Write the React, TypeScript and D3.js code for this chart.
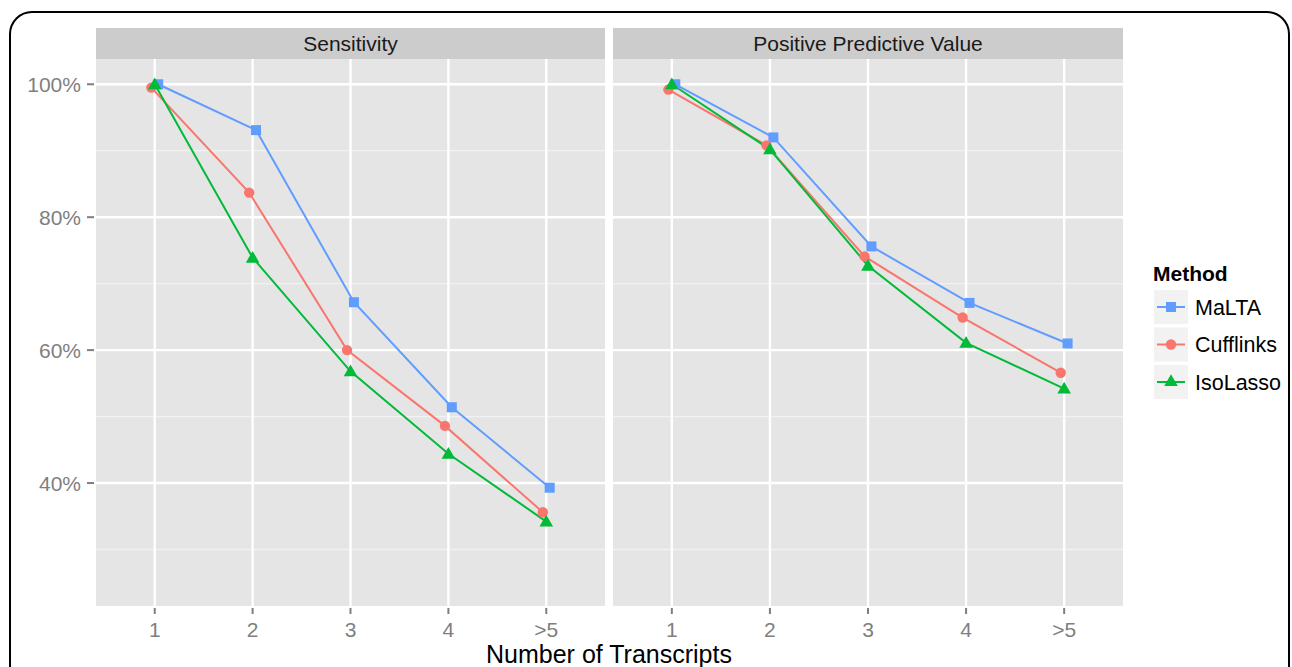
import React from 'react';
import * as d3 from 'd3';

// categories + series (in %)
const categories = ['1', '2', '3', '4', '>5'];
const panels = ['Sensitivity', 'Positive Predictive Value'];
const methods = ['MaLTA', 'Cufflinks', 'IsoLasso'];

const sensMalta = [100, 93.1, 67.2, 51.4, 39.3];
const sensCufflinks = [99.5, 83.7, 60.0, 48.6, 35.6];
const sensIsolasso = [100, 73.9, 56.8, 44.4, 34.2];

const ppvMalta = [100, 92.0, 75.6, 67.1, 61.0];
const ppvCufflinks = [99.2, 90.8, 74.1, 64.9, 56.6];
const ppvIsolasso = [100, 90.2, 72.7, 61.1, 54.2];

const yTicks = [40, 60, 80, 100];
const yMinor = [30, 50, 70, 90];

const series: Record<string, number[][]> = {
  Sensitivity: [sensMalta, sensCufflinks, sensIsolasso],
  'Positive Predictive Value': [ppvMalta, ppvCufflinks, ppvIsolasso],
};

const colors: Record<string, string> = {
  MaLTA: '#619CFF',
  Cufflinks: '#F8766D',
  IsoLasso: '#00BA38',
};
// dodge order (alphabetical as ggplot does)
const dodgeIdx: Record<string, number> = { Cufflinks: -1, IsoLasso: 0, MaLTA: 1 };

const FONT = '"Liberation Sans", Arial, Helvetica, sans-serif';

const panelTop = 59;
const panelBottom = 606;
const stripTop = 28;
const panelX = [[96, 605], [613, 1123]];

const y = d3.scaleLinear().domain([21.5, 103.8]).range([panelBottom, panelTop]);

function Marker({ method, cx, cy }: { method: string; cx: number; cy: number }) {
  const c = colors[method];
  if (method === 'MaLTA') {
    return <rect x={cx - 5} y={cy - 5} width={10} height={10} fill={c} />;
  }
  if (method === 'Cufflinks') {
    return <circle cx={cx} cy={cy} r={5.2} fill={c} />;
  }
  const s = d3.symbol(d3.symbolTriangle, 80)() as string;
  return <path d={s} transform={`translate(${cx},${cy + 1})`} fill={c} />;
}

function Panel({ name, x0, x1 }: { name: string; x0: number; x1: number }) {
  const x = d3.scalePoint<string>().domain(categories).range([x0, x1]).padding(0.6);
  const step = x.step();
  const line = d3.line<[number, number]>().x(d => d[0]).y(d => d[1]);
  const rows = methods.map((m, i) => {
    const vals = series[name][i];
    const pts: [number, number][] = vals.map((v, j) => [
      (x(categories[j]) as number) + dodgeIdx[m] * step * 0.035,
      y(v),
    ]);
    return { m, pts };
  });
  return (
    <g>
      <rect x={x0} y={stripTop} width={x1 - x0} height={panelTop - stripTop} fill="#CCCCCC" />
      <text x={(x0 + x1) / 2} y={(stripTop + panelTop) / 2 + 7.5} textAnchor="middle"
        fontSize={21} fill="#1A1A1A" fontFamily={FONT}>{name}</text>
      <rect x={x0} y={panelTop} width={x1 - x0} height={panelBottom - panelTop} fill="#E5E5E5" />
      {yMinor.map(t => (
        <line key={'mn' + t} x1={x0} x2={x1} y1={y(t)} y2={y(t)} stroke="#F2F2F2" strokeWidth={1.3} />
      ))}
      {yTicks.map(t => (
        <line key={'mj' + t} x1={x0} x2={x1} y1={y(t)} y2={y(t)} stroke="#FFFFFF" strokeWidth={2.4} />
      ))}
      {categories.map(c => (
        <line key={'vx' + c} x1={x(c)} x2={x(c)} y1={panelTop} y2={panelBottom} stroke="#FFFFFF" strokeWidth={2.4} />
      ))}
      {rows.map(r => (
        <path key={'l' + r.m} d={line(r.pts) as string} fill="none" stroke={colors[r.m]} strokeWidth={2} />
      ))}
      {rows.map(r => (
        <g key={'p' + r.m}>
          {r.pts.map((p, j) => <Marker key={j} method={r.m} cx={p[0]} cy={p[1]} />)}
        </g>
      ))}
      {categories.map(c => (
        <g key={'xt' + c}>
          <line x1={x(c)} x2={x(c)} y1={panelBottom + 2} y2={panelBottom + 8} stroke="#7F7F7F" strokeWidth={2} />
          <text x={x(c)} y={637} textAnchor="middle" fontSize={21} fill="#7F7F7F" fontFamily={FONT}>{c}</text>
        </g>
      ))}
    </g>
  );
}

export default function App() {
  const legendX = 1154;
  const legendY = 290;
  const keySize = 34;
  const keyGap = 37.5;
  const tri = d3.symbol(d3.symbolTriangle, 80)() as string;
  return (
    <svg width={1292} height={667} style={{ position: 'absolute', left: 0, top: 0, background: '#fff' }}>
      <defs>
        <clipPath id="legclip">
          <rect x={0} y={0} width={1288} height={667} />
        </clipPath>
      </defs>
      <rect x={10} y={12} width={1279} height={700} rx={22} ry={22} fill="#fff" stroke="#000" strokeWidth={2} />
      {yTicks.map(t => (
        <g key={'yt' + t}>
          <line x1={87} x2={94} y1={y(t)} y2={y(t)} stroke="#7F7F7F" strokeWidth={2} />
          <text x={81} y={y(t) + 7.5} textAnchor="end" fontSize={21} fill="#7F7F7F" fontFamily={FONT}>{t}%</text>
        </g>
      ))}
      {panels.map((p, i) => <Panel key={p} name={p} x0={panelX[i][0]} x1={panelX[i][1]} />)}
      <text x={609} y={663} textAnchor="middle" fontSize={25} fill="#000" fontFamily={FONT}>Number of Transcripts</text>

      <text x={1153} y={281} fontSize={21} fontWeight="bold" fill="#000" fontFamily={FONT}>Method</text>
      <g clipPath="url(#legclip)">
        {methods.map((m, i) => {
          const ky = legendY + i * keyGap;
          const cy = ky + keySize / 2;
          const cx = legendX + keySize / 2;
          return (
            <g key={'lg' + m}>
              <rect x={legendX} y={ky} width={keySize} height={keySize} fill="#F2F2F2" />
              <line x1={legendX + 3} x2={legendX + keySize - 3} y1={cy} y2={cy} stroke={colors[m]} strokeWidth={2} />
              {m === 'MaLTA' && <rect x={cx - 5} y={cy - 5} width={10} height={10} fill={colors[m]} />}
              {m === 'Cufflinks' && <circle cx={cx} cy={cy} r={5.2} fill={colors[m]} />}
              {m === 'IsoLasso' && <path d={tri} transform={`translate(${cx},${cy})`} fill={colors[m]} />}
              <text x={legendX + keySize + 7} y={cy + 7.5} fontSize={21.5} fill="#000" fontFamily={FONT}>{m}</text>
            </g>
          );
        })}
      </g>
    </svg>
  );
}
